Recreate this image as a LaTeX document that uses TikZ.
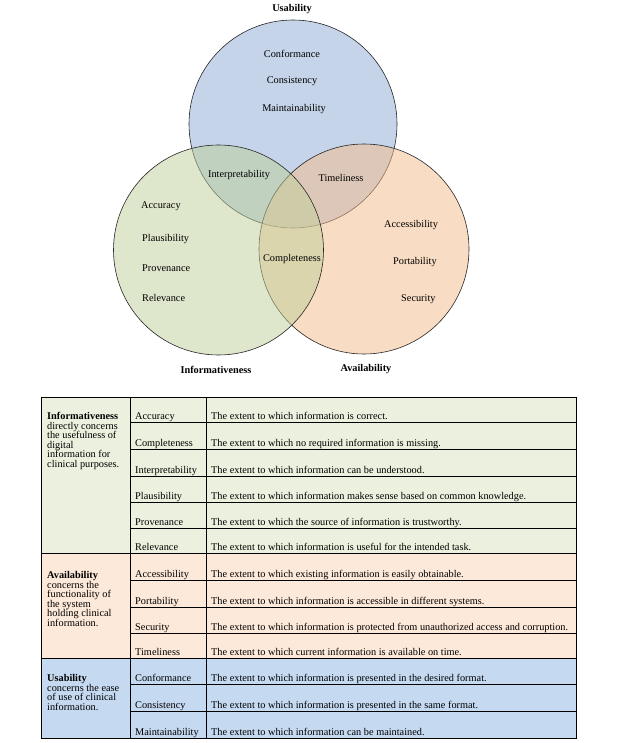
\documentclass[tikz,border=0pt]{standalone}
\usepackage{fontspec}
\setmainfont{Liberation Serif}
\definecolor{vblue}{HTML}{8DABD5}
\definecolor{vorange}{HTML}{F5BB8B}
\definecolor{vgreen}{HTML}{BFCF99}
\definecolor{tgreen}{HTML}{EBF1DE}
\definecolor{torange}{HTML}{FDE9D9}
\definecolor{tblue}{HTML}{C5D9F1}
\begin{document}
\begin{tikzpicture}[x=1pt,y=-1pt,
  venn/.style={fill opacity=0.5, draw=black!85, line width=0.6pt},
  lbl/.style={font=\fontsize{10.3}{12}\selectfont, inner sep=0pt, anchor=base},
  lblw/.style={lbl, anchor=base west},
  cell/.style={font=\fontsize{10.3}{12}\selectfont, inner sep=0pt, anchor=base west},
  grid/.style={draw=black, line width=0.7pt}]
\useasboundingbox (0,0) rectangle (619,743);
\fill[white] (0,0) rectangle (619,743);

% Venn circles (order: blue, orange, green)
\draw[venn, fill=vblue]   (293,124) circle[radius=104pt];
\draw[venn, fill=vorange] (364,249) circle[radius=105pt];
\draw[venn, fill=vgreen]  (218.5,250) circle[radius=105pt];

% Venn labels
\node[lbl] (usab) at (292,12) {\textbf{Usability}};
\node[lbl] (infor) at (216,373) {\textbf{Informativeness}};
\node[lbl] (avail) at (366,371) {\textbf{Availability}};
\node[lbl] (conf) at (292,58) {Conformance};
\node[lbl] (cons) at (292,84) {Consistency};
\node[lbl] (maint) at (294,112) {Maintainability};
\node[lbl] (interp) at (239,178) {Interpretability};
\node[lbl] (timel) at (341,182) {Timeliness};
\node[lbl] (compl) at (292,261) {Completeness};
\node[lblw] (accur) at (141,208) {Accuracy};
\node[lblw] (plaus) at (142,241) {Plausibility};
\node[lblw] (prove) at (142,271) {Provenance};
\node[lblw] (relev) at (142,301) {Relevance};
\node[lblw] (acces) at (384,227) {Accessibility};
\node[lblw] (porta) at (393,264) {Portability};
\node[lblw] (secur) at (401,301) {Security};

% Table backgrounds
\fill[tgreen]  (41,397) rectangle (576,553);
\fill[torange] (41,553) rectangle (576,658);
\fill[tblue]   (41,658) rectangle (576,738);

% Table grid
\draw[grid] (41,397) rectangle (576,738);
\draw[grid] (130,397) -- (130,738);
\draw[grid] (206,397) -- (206,738);
\draw[grid] (41,553) -- (576,553);
\draw[grid] (41,658) -- (576,658);
\foreach \yy in {422,449,476,502,528,580,607,633,684,711}
  \draw[grid] (130,\yy) -- (576,\yy);

% Table rows
\foreach \bb/\nm/\ds [count=\i] in {
  422/Accuracy/{The extent to which information is correct.},
  449/Completeness/{The extent to which no required information is missing.},
  476/Interpretability/{The extent to which information can be understood.},
  502/Plausibility/{The extent to which information makes sense based on common knowledge.},
  528/Provenance/{The extent to which the source of information is trustworthy.},
  553/Relevance/{The extent to which information is useful for the intended task.},
  580/Accessibility/{The extent to which existing information is easily obtainable.},
  607/Portability/{The extent to which information is accessible in different systems.},
  633/Security/{The extent to which information is protected from unauthorized access and corruption.},
  658/Timeliness/{The extent to which current information is available on time.},
  684/Conformance/{The extent to which information is presented in the desired format.},
  711/Consistency/{The extent to which information is presented in the same format.},
  738/Maintainability/{The extent to which information can be maintained.}}
{
  \node[cell] (dim\i) at (135,\bb-2.5) {\nm};
  \node[cell] (def\i) at (211,\bb-2.5) {\ds};
}

% First column texts
\foreach \t [count=\k from 0] in {\textbf{Informativeness}, directly concerns, the usefulness of, digital, information for, clinical purposes.}
  \node[cell] (gi\k) at (47,419.5+9.6*\k) {\t};
\foreach \t [count=\k from 0] in {\textbf{Availability}, concerns the, functionality of, the system, holding clinical, information.}
  \node[cell] (ga\k) at (47,578.5+9.6*\k) {\t};
\foreach \t [count=\k from 0] in {\textbf{Usability}, concerns the ease, of use of clinical, information.}
  \node[cell] (gu\k) at (47,681.5+9.6*\k) {\t};
\end{tikzpicture}
\end{document}
